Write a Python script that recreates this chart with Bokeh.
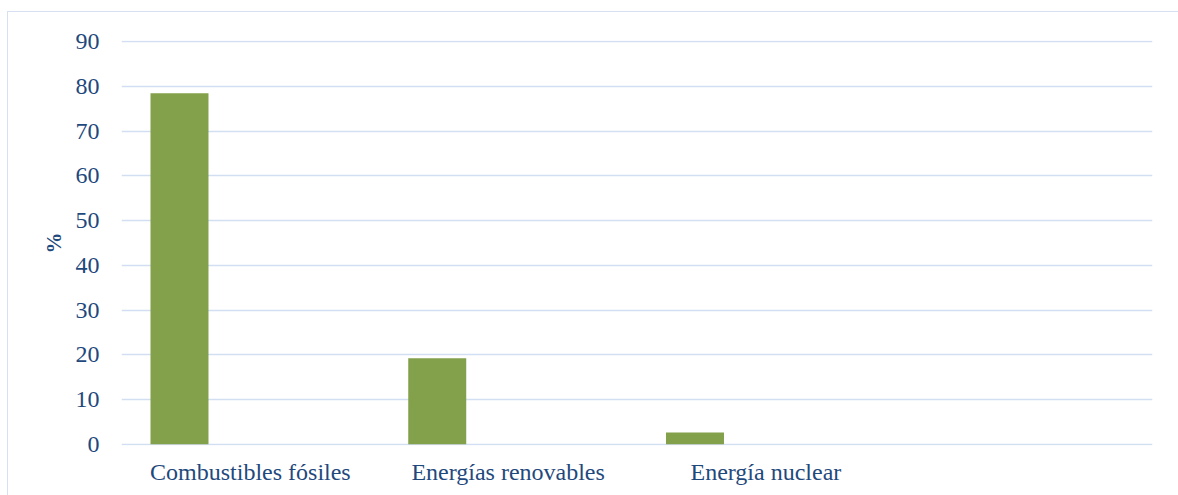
from bokeh.plotting import figure
from bokeh.models import FactorRange, Range1d, SingleIntervalTicker
from bokeh.transform import dodge
from bokeh.embed import file_html
from bokeh.resources import INLINE

# Share of primary energy supply by source (%)
categories = ["Combustibles fósiles", "Energías renovables", "Energía nuclear"]
shares = [78.5, 19.2, 2.6]

TEXT = "#1F497D"
GRID = "#D2DEF1"
BAR = "#83A04B"
FONT = "Times New Roman"

p = figure(
    x_range=FactorRange(*categories, " "),
    y_range=Range1d(-0.3, 90.3),
    width=1171,
    height=484,
    output_backend="svg",
    toolbar_location=None,
    min_border_left=113,
    min_border_right=27,
    min_border_top=28,
    min_border_bottom=51,
)
p.margin = (11, 0, 0, 7)
p.styles = {"border-left": "1.5px solid #D6E0F1", "border-top": "1.5px solid #D6E0F1"}
p.outline_line_color = None

p.vbar(
    x=dodge("cat", -0.275, range=p.x_range),
    top="val",
    bottom=0,
    width=0.225,
    source={"cat": categories, "val": shares},
    fill_color=BAR,
    line_color=None,
)

yax = p.yaxis[0]
yax.ticker = SingleIntervalTicker(interval=10)
yax.axis_line_color = None
yax.major_tick_line_color = None
yax.minor_tick_line_color = None
yax.major_label_standoff = 16
yax.major_label_text_font = FONT
yax.major_label_text_font_size = "24px"
yax.major_label_text_color = TEXT
yax.axis_label = "%"
yax.axis_label_text_font = FONT
yax.axis_label_text_font_style = "bold"
yax.axis_label_text_font_size = "21px"
yax.axis_label_text_color = TEXT
yax.axis_label_standoff = 7

xax = p.xaxis[0]
xax.axis_line_color = None
xax.major_tick_line_color = None
xax.minor_tick_line_color = None
xax.major_label_standoff = 7
xax.major_label_text_font = FONT
xax.major_label_text_font_size = "24px"
xax.major_label_text_color = TEXT

p.xgrid.grid_line_color = None
p.ygrid.grid_line_color = GRID
p.ygrid.grid_line_width = 1.7

open("out.html", "w").write(file_html(p, INLINE))
